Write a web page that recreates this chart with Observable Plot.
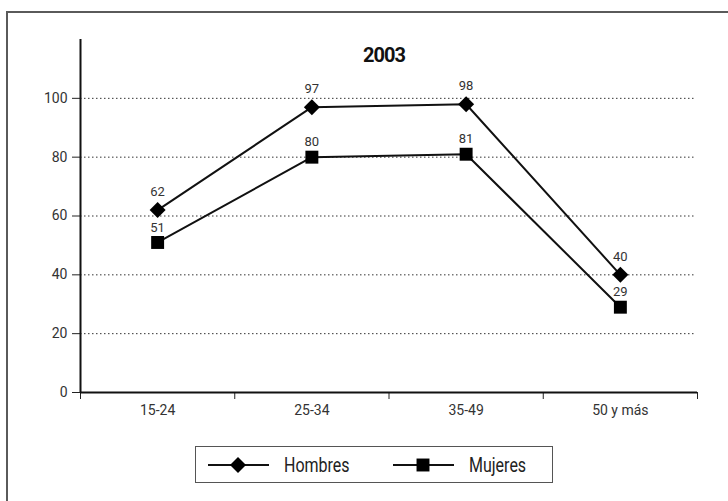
<!DOCTYPE html>
<html>
<head>
<meta charset="utf-8">
<script src="https://cdn.jsdelivr.net/npm/d3@7"></script>
<script src="https://cdn.jsdelivr.net/npm/@observablehq/plot@0.6"></script>
<style>
  html, body { margin: 0; padding: 0; background: #fff; overflow: hidden; }
  body { width: 728px; height: 501px; position: relative; font-family: Roboto, "Noto Sans", sans-serif; }
  #frame { position: absolute; left: 6px; top: 11px; width: 760px; height: 520px; border: 2px solid #5a5a5a; box-sizing: border-box; }
  #chart { position: absolute; left: 0; top: 0; }
  #title { position: absolute; left: 0; width: 768px; top: 45px; line-height: 20px; text-align: center; font-weight: bold; font-size: 20px; letter-spacing: -1px; color: #111; }
  #legend { position: absolute; left: 195px; top: 446px; width: 358px; height: 37px; border: 1.5px solid #555; box-sizing: border-box; }
  .item { position: absolute; top: 0; height: 100%; display: flex; align-items: center; color: #222; }
  .item svg { margin-right: 15px; }
  .item span { display: inline-block; font-size: 20px; transform: scaleX(0.8); transform-origin: left center; }
</style>
</head>
<body>
<div id="frame"></div>
<div id="chart"></div>
<div id="title">2003</div>
<div id="legend"></div>
<script>
const categories = ["15-24", "25-34", "35-49", "50 y más"];
const hombres = [62, 97, 98, 40];
const mujeres = [51, 80, 81, 29];
const yTicks = [0, 20, 40, 60, 80, 100];
const series = ["Hombres", "Mujeres"];
const symbols = {Hombres: "diamond2", Mujeres: "square"};
const sizes = {Hombres: 7.2, Mujeres: 7.3};

const data = [];
categories.forEach((c, i) => {
  data.push({serie: "Hombres", cat: c, pos: i + 0.5, value: hombres[i]});
  data.push({serie: "Mujeres", cat: c, pos: i + 0.5, value: mujeres[i]});
});
const edges = d3.range(categories.length + 1);
const centers = categories.map((c, i) => i + 0.5);

const chart = Plot.plot({
  width: 728,
  height: 430,
  marginLeft: 80,
  marginRight: 31,
  marginTop: 39,
  marginBottom: 38,
  style: {fontFamily: 'Roboto, sans-serif', fontSize: "14px", color: "#333", background: "transparent"},
  x: {domain: [0, categories.length], axis: null, label: null},
  y: {domain: [0, 120], axis: null, label: null},
  symbol: {type: "identity"},
  r: {type: "identity"},
  marks: [
    Plot.gridY([20, 40, 60, 80, 100], {x1: 0, x2: 3.99, stroke: "#333", strokeOpacity: 1, strokeDasharray: "1.5,2.5", strokeWidth: 1}),
    Plot.axisY(yTicks, {label: null, tickSize: 8, tickPadding: 5, fontSize: 14, letterSpacing: -0.6, stroke: "#222", color: "#333"}),
    Plot.axisX(edges, {label: null, tickSize: 7, tickFormat: () => "", stroke: "#222"}),
    Plot.axisX(centers, {label: null, tickSize: 0, tickPadding: 13, tickFormat: (d) => categories[Math.floor(d)], fontSize: 14, letterSpacing: -0.4}),
    Plot.ruleX([0], {stroke: "#111", strokeWidth: 2}),
    Plot.ruleY([0], {stroke: "#111", strokeWidth: 2}),
    Plot.line(data, {x: "pos", y: "value", z: "serie", stroke: "#111", strokeWidth: 2}),
    Plot.dot(data, {x: "pos", y: "value", symbol: (d) => symbols[d.serie], r: (d) => sizes[d.serie], fill: "#000", stroke: "none"}),
    Plot.text(data.filter((d) => d.serie === "Hombres"), {x: "pos", y: "value", text: (d) => String(d.value), dy: -18, fontSize: 13, letterSpacing: -0.8, fill: "#333"}),
    Plot.text(data.filter((d) => d.serie === "Mujeres"), {x: "pos", y: "value", text: (d) => String(d.value), dy: -15, fontSize: 13, letterSpacing: -0.8, fill: "#333"})
  ]
});
document.getElementById("chart").appendChild(chart);

// legend
const legend = document.getElementById("legend");
const legendPos = {Hombres: 12, Mujeres: 197};
series.forEach((s) => {
  const item = document.createElement("div");
  item.className = "item";
  item.style.left = legendPos[s] + "px";
  const area = Math.pow(sizes[s] * Math.sqrt(Math.PI), 2);
  const sym = d3.symbol(s === "Hombres" ? d3.symbolDiamond2 : d3.symbolSquare, area)();
  item.innerHTML = `<svg width="61" height="20"><line x1="0" x2="61" y1="10" y2="10" stroke="#111" stroke-width="2"/><path d="${sym}" transform="translate(30,10)" fill="#000"/></svg><span>${s}</span>`;
  legend.appendChild(item);
});
</script>
</body>
</html>
